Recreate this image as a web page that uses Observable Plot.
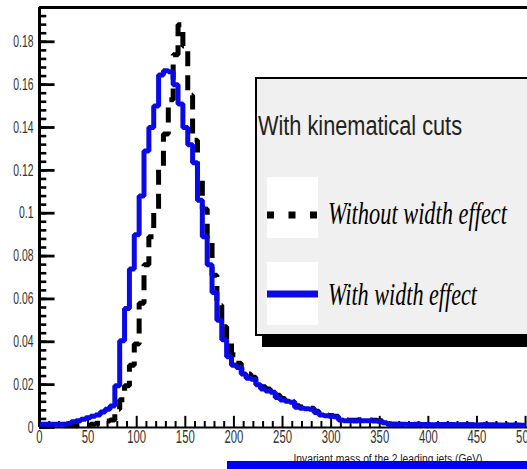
<!DOCTYPE html>
<html>
<head>
<meta charset="utf-8">
<script src="https://cdn.jsdelivr.net/npm/d3@7"></script>
<script src="https://cdn.jsdelivr.net/npm/@observablehq/plot@0.6"></script>
<style>
  html, body { margin: 0; padding: 0; background: #fff; }
  #wrap { position: relative; width: 527px; height: 469px; overflow: hidden; background: #fff; }
  #wrap > svg { position: absolute; left: 0; top: 0; }
</style>
</head>
<body>
<div id="wrap"></div>
<script>
// Dijet invariant mass, 5 GeV bins from 0 to 500 GeV (bin centres)
const massBins = d3.range(0, 505, 5);

// Normalised distribution, narrow-width approximation (dashed black)
const withoutWidthEffect = [
  0.0008, 0.0008, 0.0008, 0.0008, 0.0008, 0.0008, 0.0008, 0.0008, 0.0008, 0.0008,
  0.0010, 0.0015, 0.0020, 0.0025, 0.0030, 0.0035, 0.0085, 0.0130, 0.0195, 0.0290,
  0.0390, 0.0580, 0.0760, 0.0890, 0.1020, 0.1220, 0.1370, 0.1530, 0.1740, 0.1880,
  0.1780, 0.1550, 0.1340, 0.1170, 0.1020, 0.0870, 0.0710, 0.0570, 0.0470, 0.0400,
  0.0340, 0.0300, 0.0270, 0.0250, 0.0235, 0.0210, 0.0190, 0.0180, 0.0170, 0.0150,
  0.0135, 0.0128, 0.0120, 0.0102, 0.0096, 0.0092, 0.0090, 0.0076, 0.0064, 0.0060,
  0.0056, 0.0052, 0.0040, 0.0036, 0.0034, 0.0034, 0.0036, 0.0036, 0.0035, 0.0034,
  0.0032, 0.0024, 0.0016, 0.0015, 0.0015, 0.0014, 0.0014, 0.0015, 0.0014, 0.0014,
  0.0013, 0.0014, 0.0013, 0.0013, 0.0014, 0.0013, 0.0013, 0.0012, 0.0013, 0.0012,
  0.0012, 0.0013, 0.0012, 0.0012, 0.0012, 0.0011, 0.0012, 0.0011, 0.0011, 0.0011,
  0.0011
];

// Normalised distribution including the resonance width (solid blue)
const withWidthEffect = [
  0.0015, 0.0015, 0.0015, 0.0015, 0.0015, 0.0015, 0.0018, 0.0027, 0.0032, 0.0038,
  0.0045, 0.0052, 0.0058, 0.0072, 0.0085, 0.0100, 0.0195, 0.0405, 0.0555, 0.0740,
  0.0900, 0.1080, 0.1290, 0.1400, 0.1500, 0.1645, 0.1665, 0.1660, 0.1600, 0.1510,
  0.1400, 0.1320, 0.1235, 0.1060, 0.0890, 0.0760, 0.0630, 0.0500, 0.0410, 0.0330,
  0.0290, 0.0280, 0.0250, 0.0230, 0.0225, 0.0200, 0.0180, 0.0170, 0.0165, 0.0140,
  0.0128, 0.0122, 0.0118, 0.0095, 0.0090, 0.0088, 0.0085, 0.0070, 0.0058, 0.0055,
  0.0052, 0.0050, 0.0035, 0.0032, 0.0031, 0.0030, 0.0032, 0.0032, 0.0031, 0.0030,
  0.0029, 0.0022, 0.0015, 0.0015, 0.0014, 0.0015, 0.0014, 0.0014, 0.0015, 0.0014,
  0.0014, 0.0013, 0.0014, 0.0014, 0.0013, 0.0014, 0.0013, 0.0013, 0.0013, 0.0013,
  0.0012, 0.0013, 0.0013, 0.0012, 0.0012, 0.0012, 0.0012, 0.0011, 0.0012, 0.0011,
  0.0011
];

// Axis ticks and labels
const xMajorTicks = [0, 50, 100, 150, 200, 250, 300, 350, 400, 450, 500];
const xMinorTicks = d3.range(0, 501, 10).filter(v => v % 50 !== 0);
const yMajorTicks = [0, 0.02, 0.04, 0.06, 0.08, 0.1, 0.12, 0.14, 0.16, 0.18];
const yMinorTicks = d3.range(0, 0.1961, 0.004);
const yTickLabels = ["0", "0.02", "0.04", "0.06", "0.08", "0.1", "0.12", "0.14", "0.16", "0.18"];
const xTitle = "Invariant mass of the 2 leading jets (GeV)";

// Legend texts
const legendHeader = "With kinematical cuts";
const seriesNames = ["Without width effect", "With width effect"];

const xTop = 502;
const yTop = 0.196;

const hist = massBins.map((m, i) => ({
  mass: m,
  without: withoutWidthEffect[i],
  with: withWidthEffect[i]
}));

const blue = "#0a0ae6";
const sans = "'Liberation Sans', Arial, Helvetica, sans-serif";
const serif = "'Liberation Serif', 'Times New Roman', serif";

const chart = Plot.plot({
  width: 527,
  height: 469,
  marginLeft: 39,
  marginRight: 0,
  marginTop: 7,
  marginBottom: 42,
  x: {domain: [0, xTop], axis: null},
  y: {domain: [0, yTop], axis: null},
  style: {background: "transparent", fontFamily: sans, overflow: "visible"},
  marks: [
    // inward ticks (y on the left edge, x on the bottom edge)
    Plot.ruleY(yMinorTicks, {y: d => d, x1: 0, x2: 7.5, stroke: "#000", strokeWidth: 2.6}),
    Plot.ruleY(yMajorTicks, {y: d => d, x1: 0, x2: 16, stroke: "#000", strokeWidth: 2.8}),
    Plot.ruleX(xMinorTicks, {x: d => d, y1: 0, y2: 0.0028, stroke: "#000", strokeWidth: 2}),
    Plot.ruleX(xMajorTicks, {x: d => d, y1: 0, y2: 0.0052, stroke: "#000", strokeWidth: 2}),
    // frame
    Plot.ruleX([0], {stroke: "#000", strokeWidth: 3}),
    Plot.ruleY([yTop], {stroke: "#000", strokeWidth: 3}),
    Plot.ruleY([0], {stroke: "#000", strokeWidth: 2}),
    // histograms
    Plot.line(hist, {
      x: "mass", y: "without", curve: "step",
      stroke: "#000", strokeWidth: 5, strokeDasharray: "15,9",
      strokeLinejoin: "miter", strokeLinecap: "butt"
    }),
    Plot.line(hist, {
      x: "mass", y: "with", curve: "step",
      stroke: blue, strokeWidth: 5,
      strokeLinejoin: "miter", strokeLinecap: "butt"
    }),
    // tick labels
    Plot.text(yMajorTicks, {
      y: d => d, frameAnchor: "left", text: (d, i) => yTickLabels[i],
      textAnchor: "end", dx: -6, fontSize: 16.5, fill: "#333"
    }),
    Plot.text(xMajorTicks, {
      x: d => d, frameAnchor: "bottom", text: d => String(d),
      lineAnchor: "top", dy: 3, fontSize: 18, fill: "#333"
    }),
    Plot.text([xTitle], {
      frameAnchor: "bottom-right", text: d => d, textAnchor: "end", lineAnchor: "bottom",
      dx: -45, dy: 35, fontSize: 12.5, fill: "#222"
    })
  ]
});

const wrap = document.getElementById("wrap");
wrap.append(chart);

// Condense the axis text horizontally (narrow glyphs, as on the original canvas)
function condense(t, {ratio, width}) {
  const w = width ?? t.getComputedTextLength() * ratio;
  t.setAttribute("textLength", w.toFixed(1));
  t.setAttribute("lengthAdjust", "spacingAndGlyphs");
}
chart.querySelectorAll("text").forEach(t => {
  const s = t.textContent;
  const top = t.getBoundingClientRect().top;
  if (s === xTitle) condense(t, {width: 189});
  else if (top > 428) condense(t, {ratio: 0.54});
  else condense(t, {ratio: 0.63});
});

// Legend box with drop shadow, plus the strip along the bottom edge
const overlay = d3.create("svg")
  .attr("width", 527).attr("height", 469)
  .style("pointer-events", "none");

const lg = overlay.append("g");
lg.append("rect").attr("x", 262).attr("y", 86).attr("width", 300).attr("height", 261).attr("fill", "#000");
lg.append("rect").attr("x", 256).attr("y", 78).attr("width", 300).attr("height", 257)
  .attr("fill", "#f0f0f0").attr("stroke", "#000").attr("stroke-width", 2);

lg.append("text").attr("x", 258).attr("y", 135)
  .attr("font-family", sans).attr("font-size", 27).attr("fill", "#222")
  .attr("textLength", 204).attr("lengthAdjust", "spacingAndGlyphs")
  .text(legendHeader);

// entry: dashed black
lg.append("rect").attr("x", 267).attr("y", 177).attr("width", 51).attr("height", 61).attr("fill", "#fff");
lg.append("line").attr("x1", 267).attr("x2", 318).attr("y1", 215).attr("y2", 215)
  .attr("stroke", "#000").attr("stroke-width", 7).attr("stroke-dasharray", "7 14.5");
lg.append("text").attr("x", 328).attr("y", 224)
  .attr("font-family", serif).attr("font-style", "italic")
  .attr("font-size", 32).attr("fill", "#000")
  .attr("textLength", 179).attr("lengthAdjust", "spacingAndGlyphs")
  .text(seriesNames[0]);

// entry: solid blue
lg.append("rect").attr("x", 267).attr("y", 262).attr("width", 51).attr("height", 63).attr("fill", "#fff");
lg.append("line").attr("x1", 267).attr("x2", 318).attr("y1", 294).attr("y2", 294)
  .attr("stroke", blue).attr("stroke-width", 7);
lg.append("text").attr("x", 328).attr("y", 305)
  .attr("font-family", serif).attr("font-style", "italic")
  .attr("font-size", 32).attr("fill", "#000")
  .attr("textLength", 149).attr("lengthAdjust", "spacingAndGlyphs")
  .text(seriesNames[1]);

overlay.append("rect").attr("x", 227).attr("y", 461).attr("width", 300).attr("height", 8).attr("fill", "#0000f5");

wrap.append(overlay.node());
</script>
</body>
</html>
